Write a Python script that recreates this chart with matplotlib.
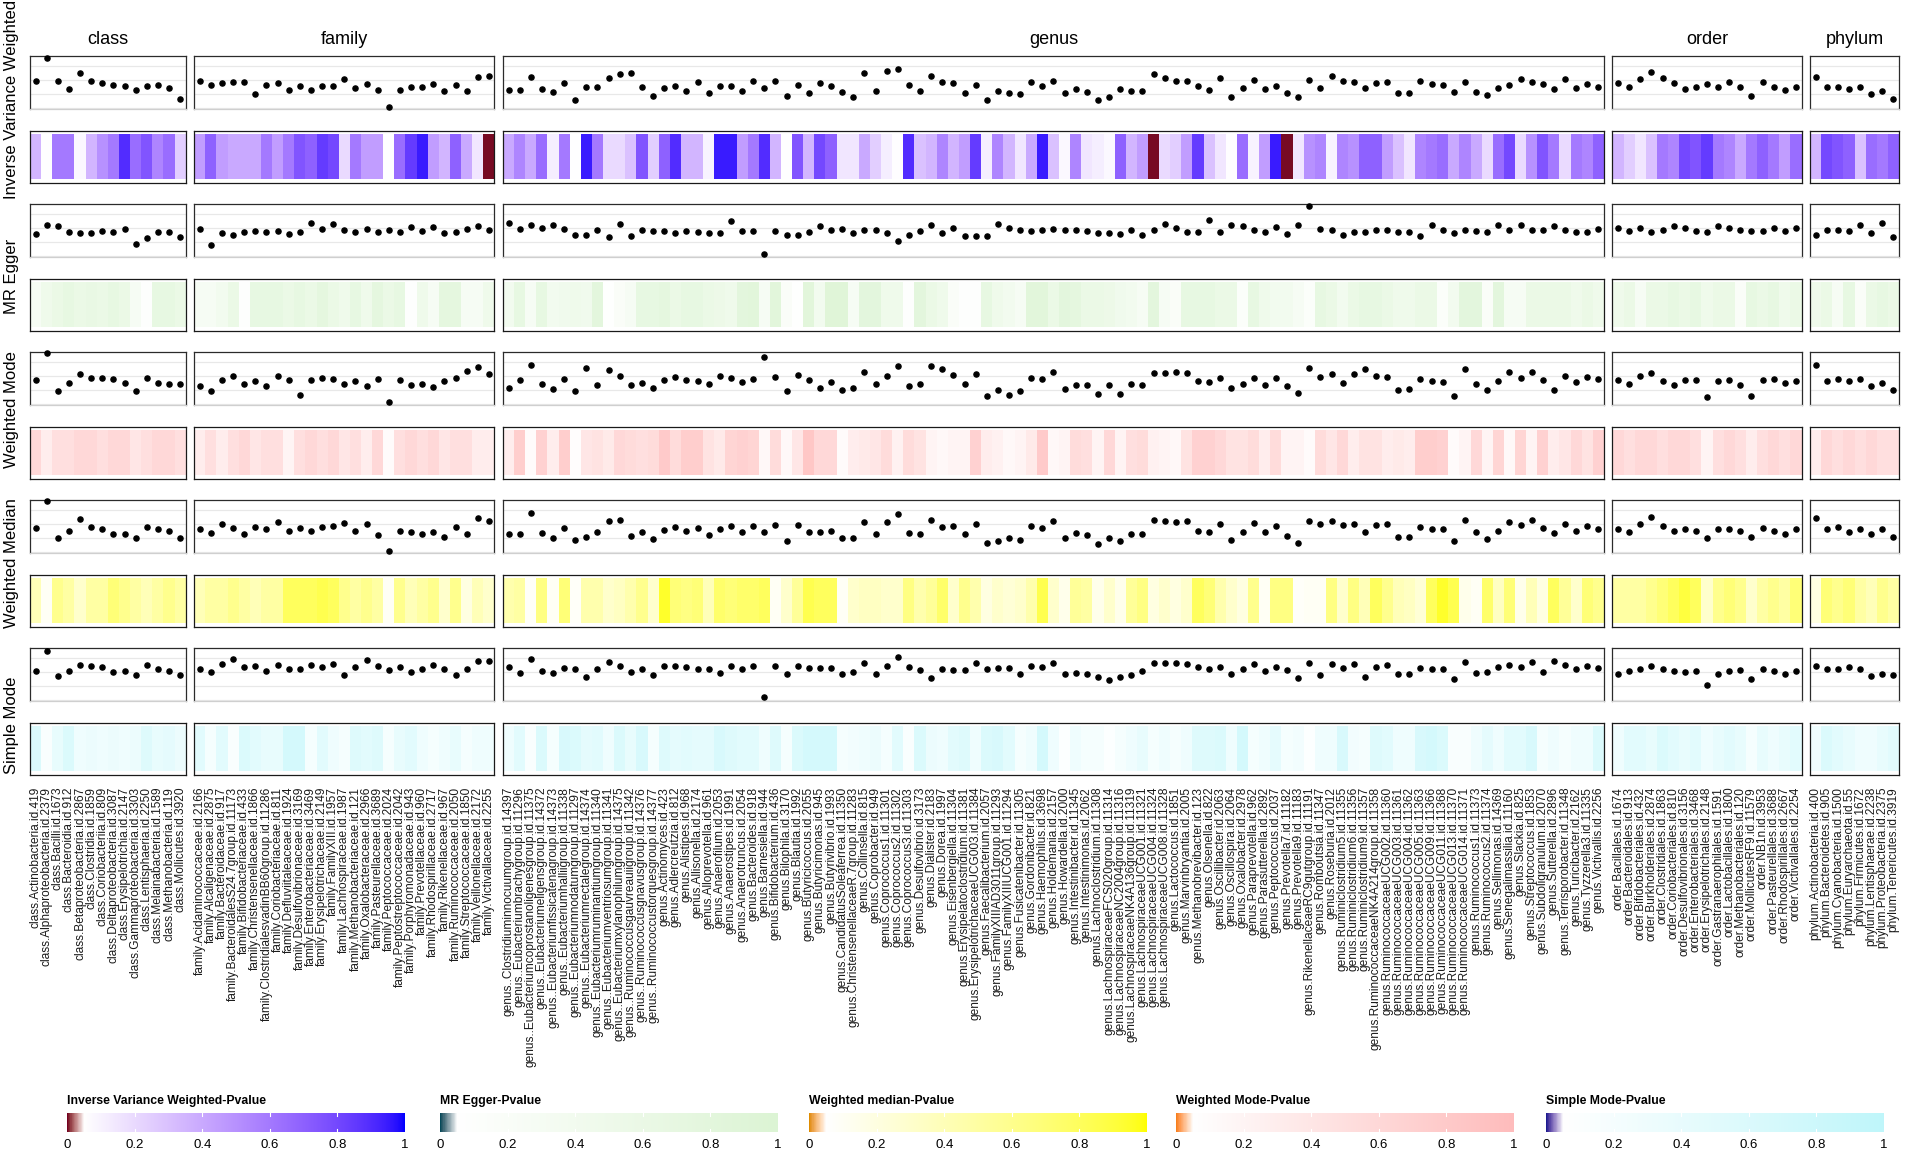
import numpy as np
import matplotlib
matplotlib.use("Agg")
import matplotlib.pyplot as plt
from matplotlib.colors import ListedColormap

plt.rcParams['font.family'] = ['Liberation Sans', 'DejaVu Sans']

# ---------------------------------------------------------------- data
class_labels = ["class.Actinobacteria.id.419", "class.Alphaproteobacteria.id.2379", "class.Bacilli.id.1673",
                "class.Bacteroidia.id.912", "class.Betaproteobacteria.id.2867", "class.Clostridia.id.1859",
                "class.Coriobacteriia.id.809", "class.Deltaproteobacteria.id.3087", "class.Erysipelotrichia.id.2147",
                "class.Gammaproteobacteria.id.3303", "class.Lentisphaeria.id.2250", "class.Melainabacteria.id.1589",
                "class.Methanobacteria.id.119", "class.Mollicutes.id.3920"]
class_ivw_b = [-0.007, 0.153, -0.007, -0.064, 0.051, -0.007, -0.024, -0.040, -0.047, -0.074, -0.043, -0.036, -0.057, -0.136]
class_ivw_p = [0.35, 0.055, 0.6, 0.6, 0.08, 0.35, 0.5, 0.6, 0.9, 0.65, 0.75, 0.55, 0.65, 0.25]
class_egger_b = [-0.043, 0.017, 0.012, -0.029, -0.041, -0.038, -0.024, -0.029, -0.012, -0.117, -0.074, -0.031, -0.031, -0.067]
class_egger_p = [0.3, 0.5, 0.6, 0.7, 0.6, 0.65, 0.6, 0.7, 0.6, 0.3, 0.1, 0.7, 0.7, 0.6]
class_wmode_b = [-0.031, 0.16, -0.110, -0.049, 0.013, -0.013, -0.013, -0.022, -0.049, -0.110, -0.013, -0.049, -0.057, -0.057]
class_wmode_p = [0.6, 0.3, 0.5, 0.5, 0.6, 0.6, 0.5, 0.6, 0.6, 0.4, 0.5, 0.6, 0.6, 0.5]
class_wmed_b = [-0.031, 0.16, -0.102, -0.049, 0.031, -0.022, -0.040, -0.075, -0.075, -0.102, -0.022, -0.040, -0.049, -0.102]
class_wmed_p = [0.4, 0.1, 0.6, 0.5, 0.3, 0.5, 0.5, 0.7, 0.6, 0.5, 0.4, 0.5, 0.6, 0.5]
class_smode_b = [0.004, 0.146, -0.031, 0.004, 0.049, 0.040, 0.031, -0.004, 0.004, -0.022, 0.049, 0.022, 0.004, -0.022]
class_smode_p = [0.6, 0.15, 0.4, 0.6, 0.3, 0.35, 0.3, 0.35, 0.3, 0.35, 0.55, 0.4, 0.45, 0.35]

family_labels = ["family.Acidaminococcaceae.id.2166", "family.Alcaligenaceae.id.2875", "family.Bacteroidaceae.id.917",
                 "family.BacteroidalesS24.7group.id.11173", "family.Bifidobacteriaceae.id.433",
                 "family.Christensenellaceae.id.1866", "family.ClostridialesvadinBB60group.id.11286",
                 "family.Coriobacteriaceae.id.811", "family.Defluviitaleaceae.id.1924",
                 "family.Desulfovibrionaceae.id.3169", "family.Enterobacteriaceae.id.3469",
                 "family.Erysipelotrichaceae.id.2149", "family.FamilyXIII.id.1957", "family.Lachnospiraceae.id.1987",
                 "family.Methanobacteriaceae.id.121", "family.Oxalobacteraceae.id.2966",
                 "family.Pasteurellaceae.id.3689", "family.Peptococcaceae.id.2024",
                 "family.Peptostreptococcaceae.id.2042", "family.Porphyromonadaceae.id.943",
                 "family.Prevotellaceae.id.960", "family.Rhodospirillaceae.id.2717", "family.Rikenellaceae.id.967",
                 "family.Ruminococcaceae.id.2050", "family.Streptococcaceae.id.1850",
                 "family.Veillonellaceae.id.2172", "family.Victivallaceae.id.2255"]
family_ivw_b = [-0.012, -0.038, -0.022, -0.014, -0.014, -0.100, -0.038, -0.024, -0.076, -0.043, -0.072, -0.048, -0.043,
                0.005, -0.060, -0.029, -0.072, -0.196, -0.072, -0.053, -0.053, -0.029, -0.084, -0.038, -0.079, 0.022, 0.026]
family_ivw_p = [0.45, 0.7, 0.45, 0.4, 0.4, 0.4, 0.6, 0.45, 0.6, 0.75, 0.7, 0.85, 0.8, 0.2, 0.6, 0.45, 0.45, 0.055,
                0.65, 0.85, 0.95, 0.45, 0.35, 0.7, 0.4, 0.15, 0.001]
family_egger_b = [-0.007, -0.122, -0.036, -0.053, -0.033, -0.022, -0.031, -0.024, -0.048, -0.031, 0.033, -0.012, 0.029,
                  -0.019, -0.031, -0.010, -0.031, -0.014, -0.033, 0.007, -0.022, 0.007, -0.038, -0.031, -0.012, 0.014, -0.019]
family_egger_p = [0.3, 0.3, 0.4, 0.6, 0.1, 0.7, 0.7, 0.7, 0.6, 0.7, 0.6, 0.75, 0.6, 0.5, 0.7, 0.5, 0.75, 0.6, 0.7, 0.1,
                  0.5, 0.3, 0.75, 0.75, 0.3, 0.3, 0.5]
family_wmode_b = [-0.075, -0.110, -0.031, -0.004, -0.057, -0.040, -0.075, -0.004, -0.031, -0.137, -0.031, -0.013, -0.022,
                  -0.057, -0.040, -0.075, -0.022, -0.19, -0.031, -0.066, -0.057, -0.084, -0.040, -0.013, 0.031, 0.066, 0.013]
family_wmode_p = [0.3, 0.5, 0.3, 0.5, 0.6, 0.4, 0.5, 0.5, 0.2, 0.5, 0.6, 0.5, 0.6, 0.4, 0.5, 0.3, 0.6, 0.1, 0.5, 0.6,
                  0.5, 0.6, 0.4, 0.5, 0.5, 0.3, 0.3]
family_wmed_b = [-0.040, -0.066, -0.004, -0.031, -0.075, -0.022, -0.040, 0.013, -0.049, -0.031, -0.049, -0.022, -0.013,
                 0.004, -0.049, -0.004, -0.084, -0.199, -0.049, -0.057, -0.075, -0.057, -0.093, -0.022, -0.075, 0.040, 0.022]
family_wmed_p = [0.4, 0.5, 0.5, 0.6, 0.5, 0.4, 0.5, 0.5, 0.8, 0.8, 0.8, 0.85, 0.8, 0.6, 0.5, 0.6, 0.5, 0.1, 0.6, 0.4,
                 0.5, 0.6, 0.3, 0.6, 0.2, 0.4, 0.3]
family_smode_b = [0.022, -0.004, 0.057, 0.093, 0.031, 0.040, 0.004, 0.049, 0.022, 0.022, 0.049, 0.031, 0.057, -0.022,
                  0.031, 0.084, 0.040, 0.013, 0.031, -0.004, 0.022, 0.049, 0.022, -0.022, 0.022, 0.075, 0.075]
family_smode_p = [0.5, 0.2, 0.5, 0.15, 0.6, 0.5, 0.4, 0.4, 0.7, 0.7, 0.2, 0.5, 0.3, 0.2, 0.55, 0.5, 0.55, 0.2, 0.4, 0.5,
                  0.3, 0.2, 0.3, 0.4, 0.2, 0.3, 0.3]

genus_labels = [
    "genus..Clostridiuminnocuumgroup.id.14397", "genus..Eubacteriumbrachygroup.id.11296",
    "genus..Eubacteriumcoprostanoligenesgroup.id.11375", "genus..Eubacteriumeligensgroup.id.14372",
    "genus..Eubacteriumfissicatenagroup.id.14373", "genus..Eubacteriumhalliigroup.id.11338",
    "genus..Eubacteriumnodatumgroup.id.11297", "genus..Eubacteriumrectalegroup.id.14374",
    "genus..Eubacteriumruminantiumgroup.id.11340", "genus..Eubacteriumventriosumgroup.id.11341",
    "genus..Eubacteriumxylanophilumgroup.id.14375", "genus..Ruminococcusgauvreauiigroup.id.11342",
    "genus..Ruminococcusgnavusgroup.id.14376", "genus..Ruminococcustorquesgroup.id.14377",
    "genus.Actinomyces.id.423", "genus.Adlercreutzia.id.812", "genus.Alistipes.id.968", "genus.Allisonella.id.2174",
    "genus.Alloprevotella.id.961", "genus.Anaerofilum.id.2053", "genus.Anaerostipes.id.1991",
    "genus.Anaerotruncus.id.2054", "genus.Bacteroides.id.918", "genus.Barnesiella.id.944",
    "genus.Bifidobacterium.id.436", "genus.Bilophila.id.3170", "genus.Blautia.id.1992",
    "genus.Butyricicoccus.id.2055", "genus.Butyricimonas.id.945", "genus.Butyrivibrio.id.1993",
    "genus.CandidatusSoleaferrea.id.11350", "genus.ChristensenellaceaeR.7group.id.11283",
    "genus.Collinsella.id.815", "genus.Coprobacter.id.949", "genus.Coprococcus1.id.11301",
    "genus.Coprococcus2.id.11302", "genus.Coprococcus3.id.11303", "genus.Desulfovibrio.id.3173",
    "genus.Dialister.id.2183", "genus.Dorea.id.1997", "genus.Eisenbergiella.id.11304",
    "genus.Erysipelatoclostridium.id.11381", "genus.ErysipelotrichaceaeUCG003.id.11384",
    "genus.Faecalibacterium.id.2057", "genus.FamilyXIIIAD3011group.id.11293", "genus.FamilyXIIIUCG001.id.11294",
    "genus.Fusicatenibacter.id.11305", "genus.Gordonibacter.id.821", "genus.Haemophilus.id.3698",
    "genus.Holdemania.id.2157", "genus.Howardella.id.2000", "genus.Intestinibacter.id.11345",
    "genus.Intestinimonas.id.2062", "genus.Lachnoclostridium.id.11308",
    "genus.LachnospiraceaeFCS020group.id.11314", "genus.LachnospiraceaeNC2004group.id.11316",
    "genus.LachnospiraceaeNK4A136group.id.11319", "genus.LachnospiraceaeUCG001.id.11321",
    "genus.LachnospiraceaeUCG004.id.11324", "genus.LachnospiraceaeUCG008.id.11328", "genus.Lactococcus.id.1851",
    "genus.Marvinbryantia.id.2005", "genus.Methanobrevibacter.id.123", "genus.Olsenella.id.822",
    "genus.Oscillibacter.id.2063", "genus.Oscillospira.id.2064", "genus.Oxalobacter.id.2978",
    "genus.Paraprevotella.id.962", "genus.Parasutterella.id.2892", "genus.Peptococcus.id.2037",
    "genus.Prevotella7.id.11182", "genus.Prevotella9.id.11183", "genus.RikenellaceaeRC9gutgroup.id.11191",
    "genus.Romboutsia.id.11347", "genus.Roseburia.id.2012", "genus.Ruminiclostridium5.id.11355",
    "genus.Ruminiclostridium6.id.11356", "genus.Ruminiclostridium9.id.11357",
    "genus.RuminococcaceaeNK4A214group.id.11358", "genus.RuminococcaceaeUCG002.id.11360",
    "genus.RuminococcaceaeUCG003.id.11361", "genus.RuminococcaceaeUCG004.id.11362",
    "genus.RuminococcaceaeUCG005.id.11363", "genus.RuminococcaceaeUCG009.id.11366",
    "genus.RuminococcaceaeUCG011.id.11368", "genus.RuminococcaceaeUCG013.id.11370",
    "genus.RuminococcaceaeUCG014.id.11371", "genus.Ruminococcus1.id.11373", "genus.Ruminococcus2.id.11374",
    "genus.Sellimonas.id.14369", "genus.Senegalimassilia.id.11160", "genus.Slackia.id.825",
    "genus.Streptococcus.id.1853", "genus.Subdoligranulum.id.2070", "genus.Sutterella.id.2896",
    "genus.Terrisporobacter.id.11348", "genus.Turicibacter.id.2162", "genus.Tyzzerella3.id.11335",
    "genus.Victivallis.id.2256"]

genus_ivw_b = [
    -0.073, -0.073, 0.020, -0.069, -0.086, -0.023, -0.145, -0.050, -0.053, 0.013,
    0.043, 0.050, -0.053, -0.116, -0.059, -0.043, -0.079, -0.017, -0.096, -0.046,
    -0.046, -0.079, -0.010, -0.056, -0.007, -0.119, -0.036, -0.092, -0.026, -0.046,
    -0.089, -0.125, 0.050, -0.079, 0.059, 0.076, -0.036, -0.079, 0.030, -0.013,
    -0.023, -0.092, -0.036, -0.145, -0.083, -0.096, -0.102, -0.017, -0.043, -0.007,
    -0.092, -0.066, -0.089, -0.145, -0.122, -0.066, -0.083, -0.079, 0.043, 0.013,
    -0.007, -0.007, -0.046, -0.073, 0.010, -0.125, -0.056, 0.0, -0.066, -0.046,
    -0.096, -0.122, -0.003, -0.059, 0.026, -0.010, -0.017, -0.059, -0.023, -0.013,
    -0.096, -0.092, -0.007, -0.030, -0.036, -0.089, -0.013, -0.086, -0.109, -0.056,
    -0.036, 0.007, -0.020, -0.030, -0.066, 0.007, -0.063, -0.030, -0.050]
genus_ivw_p = [
    0.4, 0.55, 0.4, 0.65, 0.12, 0.6, 0.055, 0.95, 0.6, 0.2,
    0.2, 0.3, 0.75, 0.25, 0.7, 0.9, 0.35, 0.35, 0.1, 0.95,
    0.95, 0.45, 0.6, 0.9, 0.35, 0.055, 0.75, 0.35, 0.8, 0.7,
    0.15, 0.15, 0.4, 0.25, 0.12, 0.06, 0.9, 0.3, 0.35, 0.55,
    0.35, 0.45, 0.85, 0.12, 0.55, 0.35, 0.15, 0.4, 0.95, 0.3,
    0.08, 0.55, 0.15, 0.12, 0.08, 0.7, 0.35, 0.45, 0.001, 0.2,
    0.25, 0.45, 0.85, 0.3, 0.15, 0.06, 0.65, 0.1, 0.45, 0.95,
    0.001, 0.15, 0.5, 0.55, 0.1, 0.55, 0.5, 0.7, 0.7, 0.45,
    0.3, 0.15, 0.55, 0.6, 0.65, 0.4, 0.55, 0.4, 0.2, 0.65,
    0.8, 0.2, 0.5, 0.75, 0.6, 0.2, 0.6, 0.55, 0.7]
genus_egger_b = [
    0.033, -0.010, 0.020, -0.003, 0.017, -0.010, -0.053, -0.053, -0.017, -0.066,
    0.030, -0.056, -0.013, -0.026, -0.026, -0.036, -0.023, -0.033, -0.040, -0.036,
    0.050, -0.023, -0.026, -0.185, -0.023, -0.050, -0.053, -0.030, 0.010, -0.020,
    -0.010, -0.040, -0.017, -0.020, -0.036, -0.092, -0.053, -0.023, 0.023, -0.040,
    0.0, -0.056, -0.056, -0.056, 0.030, 0.0, -0.020, -0.023, -0.013, -0.010,
    -0.020, -0.020, -0.026, -0.040, -0.040, -0.043, -0.017, -0.050, -0.017, 0.030,
    0.0, -0.030, -0.030, 0.056, -0.030, 0.023, 0.013, -0.013, -0.030, 0.003,
    -0.043, 0.017, 0.158, -0.010, -0.013, -0.053, -0.030, -0.030, -0.017, -0.017,
    -0.033, -0.030, -0.059, 0.017, -0.013, -0.040, -0.017, -0.023, -0.033, 0.020,
    -0.017, 0.023, -0.013, -0.013, 0.010, -0.017, -0.030, -0.030, -0.010]
genus_egger_p = [
    0.4, 0.7, 0.3, 0.7, 0.4, 0.45, 0.5, 0.45, 0.8, 0.08,
    0.2, 0.3, 0.7, 0.7, 0.75, 0.6, 0.7, 0.7, 0.6, 0.55,
    0.5, 0.8, 0.85, 0.3, 0.85, 0.2, 0.08, 0.85, 0.4, 0.9,
    0.9, 0.3, 0.8, 0.8, 0.5, 0.5, 0.1, 0.8, 0.6, 0.5,
    0.2, 0.1, 0.1, 0.7, 0.5, 0.4, 0.3, 0.85, 0.85, 0.6,
    0.8, 0.75, 0.6, 0.6, 0.55, 0.45, 0.4, 0.3, 0.8, 0.3,
    0.2, 0.7, 0.7, 0.7, 0.6, 0.6, 0.15, 0.7, 0.5, 0.4,
    0.4, 0.3, 0.15, 0.7, 0.6, 0.4, 0.6, 0.7, 0.7, 0.6,
    0.5, 0.5, 0.6, 0.6, 0.15, 0.4, 0.8, 0.8, 0.2, 0.8,
    0.3, 0.3, 0.6, 0.6, 0.6, 0.6, 0.5, 0.6, 0.5]
genus_wmode_b = [
    -0.086, -0.030, 0.079, -0.056, -0.092, -0.026, -0.112, 0.053, -0.066, 0.040,
    -0.003, -0.066, -0.053, -0.089, -0.033, -0.007, -0.033, -0.040, -0.063, -0.003,
    -0.013, -0.046, -0.020, 0.132, -0.010, -0.112, 0.007, -0.033, -0.086, -0.043,
    -0.102, -0.086, 0.026, -0.063, 0.0, 0.069, -0.076, -0.056, 0.073, 0.050,
    0.003, -0.056, 0.013, -0.149, -0.102, -0.139, -0.109, -0.013, -0.026, 0.026,
    -0.092, -0.066, -0.066, -0.132, -0.066, -0.129, -0.059, -0.066, 0.023, 0.023,
    0.030, 0.023, -0.040, -0.043, -0.013, -0.086, -0.056, -0.017, -0.066, -0.013,
    -0.076, -0.125, 0.053, -0.007, 0.010, -0.050, 0.010, 0.046, -0.003, -0.007,
    -0.099, -0.096, -0.023, -0.036, -0.043, -0.145, 0.046, -0.063, -0.102, -0.040,
    0.026, -0.017, 0.030, -0.030, -0.099, 0.0, -0.043, -0.007, -0.026]
genus_wmode_p = [
    0.3, 0.75, 0.1, 0.7, 0.3, 0.75, 0.08, 0.4, 0.45, 0.35,
    0.6, 0.55, 0.5, 0.55, 0.8, 0.55, 0.75, 0.75, 0.45, 0.35,
    0.65, 0.7, 0.65, 0.15, 0.55, 0.15, 0.4, 0.85, 0.6, 0.6,
    0.1, 0.3, 0.35, 0.4, 0.55, 0.25, 0.55, 0.45, 0.2, 0.15,
    0.2, 0.2, 0.7, 0.3, 0.25, 0.15, 0.2, 0.35, 0.8, 0.15,
    0.2, 0.55, 0.5, 0.2, 0.6, 0.2, 0.5, 0.55, 0.25, 0.2,
    0.15, 0.45, 0.7, 0.7, 0.6, 0.45, 0.45, 0.55, 0.3, 0.55,
    0.2, 0.2, 0.1, 0.55, 0.4, 0.6, 0.3, 0.45, 0.45, 0.3,
    0.35, 0.3, 0.75, 0.75, 0.7, 0.1, 0.2, 0.6, 0.2, 0.65,
    0.15, 0.65, 0.2, 0.7, 0.3, 0.4, 0.6, 0.45, 0.7]
genus_wmed_b = [
    -0.073, -0.076, 0.076, -0.066, -0.099, -0.030, -0.119, -0.096, -0.063, 0.017,
    0.026, -0.086, -0.059, -0.112, -0.043, -0.023, -0.050, -0.030, -0.079, -0.036,
    -0.017, -0.063, -0.020, -0.063, -0.010, -0.122, -0.010, -0.059, -0.059, -0.050,
    -0.106, -0.099, 0.010, -0.073, 0.013, 0.069, -0.069, -0.073, 0.026, -0.023,
    -0.017, -0.076, -0.003, -0.139, -0.122, -0.106, -0.116, -0.013, -0.030, 0.017,
    -0.102, -0.066, -0.079, -0.142, -0.102, -0.122, -0.073, -0.073, 0.026, 0.017,
    0.013, 0.017, -0.050, -0.063, -0.003, -0.116, -0.059, 0.003, -0.059, -0.017,
    -0.089, -0.135, 0.020, 0.0, 0.020, -0.007, 0.0, -0.056, -0.010, -0.003,
    -0.092, -0.092, -0.026, -0.040, -0.040, -0.122, 0.030, -0.056, -0.112, -0.050,
    0.013, -0.007, 0.026, -0.033, -0.069, -0.003, -0.053, -0.017, -0.036]
genus_wmed_p = [
    0.45, 0.5, 0.08, 0.65, 0.1, 0.7, 0.08, 0.45, 0.45, 0.3,
    0.35, 0.45, 0.6, 0.3, 0.95, 0.7, 0.65, 0.7, 0.4, 0.75,
    0.7, 0.75, 0.75, 0.8, 0.1, 0.3, 0.55, 0.85, 0.8, 0.8,
    0.1, 0.3, 0.35, 0.35, 0.3, 0.3, 0.65, 0.45, 0.55, 0.75,
    0.3, 0.6, 0.45, 0.2, 0.3, 0.25, 0.3, 0.45, 0.85, 0.3,
    0.15, 0.55, 0.5, 0.15, 0.3, 0.15, 0.55, 0.65, 0.2, 0.3,
    0.2, 0.3, 0.8, 0.7, 0.45, 0.3, 0.2, 0.6, 0.1, 0.65,
    0.65, 0.08, 0.1, 0.1, 0.65, 0.3, 0.65, 0.4, 0.8, 0.6,
    0.4, 0.35, 0.25, 0.8, 0.95, 0.85, 0.15, 0.1, 0.75, 0.35,
    0.7, 0.15, 0.4, 0.2, 0.8, 0.55, 0.3, 0.7, 0.6]
genus_smode_b = [
    0.033, -0.007, 0.092, 0.007, -0.007, 0.030, 0.017, -0.040, 0.020, 0.073,
    0.040, -0.003, 0.020, -0.026, 0.040, 0.043, 0.033, 0.020, 0.020, -0.010,
    0.040, 0.020, 0.040, -0.182, 0.040, -0.020, 0.040, 0.030, 0.026, 0.026,
    -0.013, -0.003, 0.066, -0.013, 0.043, 0.106, 0.033, 0.010, -0.043, 0.020,
    0.013, 0.013, 0.066, 0.017, 0.030, 0.030, -0.013, 0.043, 0.033, 0.063,
    -0.013, -0.007, -0.013, -0.036, -0.056, -0.036, -0.026, 0.003, 0.063, 0.063,
    0.063, 0.053, 0.036, 0.023, 0.036, -0.013, 0.023, 0.056, 0.003, 0.036,
    0.010, -0.043, 0.063, -0.026, 0.053, 0.026, 0.056, -0.040, 0.033, 0.046,
    -0.013, -0.013, 0.026, 0.023, 0.020, -0.053, 0.073, -0.010, -0.003, 0.036,
    0.050, 0.033, 0.069, 0.0, 0.076, 0.046, 0.017, 0.043, 0.030]
genus_smode_p = [
    0.3, 0.5, 0.15, 0.6, 0.2, 0.65, 0.6, 0.45, 0.5, 0.3,
    0.6, 0.4, 0.65, 0.2, 0.55, 0.45, 0.5, 0.45, 0.45, 0.65,
    0.55, 0.5, 0.5, 0.3, 0.55, 0.2, 0.6, 0.7, 0.7, 0.7,
    0.2, 0.25, 0.3, 0.35, 0.2, 0.5, 0.15, 0.6, 0.35, 0.3,
    0.5, 0.55, 0.3, 0.6, 0.65, 0.5, 0.2, 0.3, 0.7, 0.3,
    0.1, 0.3, 0.2, 0.2, 0.1, 0.2, 0.3, 0.4, 0.2, 0.3,
    0.2, 0.3, 0.55, 0.55, 0.6, 0.3, 0.7, 0.2, 0.3, 0.45,
    0.2, 0.25, 0.1, 0.3, 0.3, 0.65, 0.25, 0.2, 0.55, 0.5,
    0.3, 0.3, 0.65, 0.7, 0.6, 0.15, 0.15, 0.3, 0.45, 0.3,
    0.5, 0.5, 0.65, 0.2, 0.3, 0.2, 0.3, 0.3, 0.6]

order_labels = ["order.Bacillales.id.1674", "order.Bacteroidales.id.913", "order.Bifidobacteriales.id.432",
                "order.Burkholderiales.id.2874", "order.Clostridiales.id.1863", "order.Coriobacteriales.id.810",
                "order.Desulfovibrionales.id.3156", "order.Enterobacteriales.id.3468",
                "order.Erysipelotrichales.id.2148", "order.Gastranaerophilales.id.1591",
                "order.Lactobacillales.id.1800", "order.Methanobacteriales.id.120", "order.MollicutesRF9.id.11579",
                "order.NB1n.id.3953", "order.Pasteurellales.id.3688", "order.Rhodospirillales.id.2667",
                "order.Victivallales.id.2254"]
order_ivw_b = [-0.022, -0.049, 0.004, 0.057, 0.013, -0.022, -0.066, -0.049, -0.031, -0.049, -0.013, -0.049, -0.119,
               -0.013, -0.049, -0.075, -0.049]
order_ivw_p = [0.35, 0.25, 0.15, 0.3, 0.6, 0.55, 0.8, 0.75, 0.85, 0.6, 0.55, 0.4, 0.6, 0.7, 0.6, 0.45, 0.65]
order_egger_b = [-0.004, -0.022, -0.004, -0.031, -0.013, 0.013, -0.004, -0.022, -0.031, 0.013, -0.004, -0.013, -0.022,
                 -0.022, -0.004, -0.022, -0.004]
order_egger_p = [0.5, 0.6, 0.3, 0.6, 0.6, 0.7, 0.6, 0.7, 0.5, 0.6, 0.6, 0.2, 0.7, 0.6, 0.7, 0.5, 0.6]
order_wmode_b = [-0.031, -0.057, -0.004, 0.022, -0.040, -0.066, -0.031, -0.031, -0.155, -0.040, -0.031, -0.066, -0.146,
                 -0.031, -0.022, -0.049, -0.040]
order_wmode_p = [0.6, 0.5, 0.6, 0.6, 0.5, 0.6, 0.6, 0.5, 0.2, 0.5, 0.6, 0.5, 0.3, 0.5, 0.6, 0.5, 0.6]
order_wmed_b = [-0.040, -0.057, -0.004, 0.049, -0.013, -0.049, -0.040, -0.049, -0.102, -0.040, -0.040, -0.049, -0.093,
                -0.031, -0.049, -0.075, -0.040]
order_wmed_p = [0.5, 0.5, 0.5, 0.6, 0.7, 0.8, 0.9, 0.8, 0.3, 0.6, 0.7, 0.6, 0.3, 0.5, 0.6, 0.5, 0.7]
order_smode_b = [-0.013, 0.004, 0.022, 0.040, 0.022, 0.004, -0.004, 0.004, -0.093, -0.013, 0.004, 0.013, -0.049,
                 0.022, 0.004, -0.013, 0.004]
order_smode_p = [0.3, 0.5, 0.5, 0.4, 0.6, 0.5, 0.4, 0.5, 0.3, 0.4, 0.5, 0.4, 0.2, 0.4, 0.3, 0.4, 0.5]

phylum_labels = ["phylum.Actinobacteria.id.400", "phylum.Bacteroidetes.id.905", "phylum.Cyanobacteria.id.1500",
                 "phylum.Euryarchaeota.id.55", "phylum.Firmicutes.id.1672", "phylum.Lentisphaerae.id.2238",
                 "phylum.Proteobacteria.id.2375", "phylum.Tenericutes.id.3919"]
phylum_ivw_b = [0.022, -0.049, -0.049, -0.066, -0.049, -0.102, -0.084, -0.137]
phylum_ivw_p = [0.35, 0.8, 0.75, 0.7, 0.3, 0.65, 0.6, 0.7]
phylum_egger_b = [-0.049, -0.013, -0.013, -0.022, 0.022, -0.040, 0.031, -0.066]
phylum_egger_p = [0.5, 0.6, 0.3, 0.7, 0.2, 0.6, 0.7, 0.6]
phylum_wmode_b = [0.075, -0.040, -0.022, -0.040, -0.022, -0.075, -0.049, -0.102]
phylum_wmode_p = [0.3, 0.6, 0.5, 0.6, 0.5, 0.6, 0.5, 0.5]
phylum_wmed_b = [0.040, -0.040, -0.022, -0.057, -0.040, -0.075, -0.040, -0.093]
phylum_wmed_p = [0.2, 0.7, 0.6, 0.7, 0.5, 0.4, 0.6, 0.5]
phylum_smode_b = [0.040, 0.022, 0.022, 0.031, 0.022, -0.031, -0.013, -0.022]
phylum_smode_p = [0.3, 0.6, 0.5, 0.4, 0.3, 0.3, 0.4, 0.5]

group_names = ["class", "family", "genus", "order", "phylum"]
method_names = ["Inverse Variance Weighted", "MR Egger", "Weighted Mode", "Weighted Median", "Simple Mode"]
legend_titles = ["Inverse Variance Weighted-Pvalue", "MR Egger-Pvalue", "Weighted median-Pvalue",
                 "Weighted Mode-Pvalue", "Simple Mode-Pvalue"]
legend_ticks = [0, 0.2, 0.4, 0.6, 0.8, 1]
legend_ticklabels = ["0", "0.2", "0.4", "0.6", "0.8", "1"]

groups = {
    "class": (class_labels, [(class_ivw_b, class_ivw_p), (class_egger_b, class_egger_p),
                             (class_wmode_b, class_wmode_p), (class_wmed_b, class_wmed_p),
                             (class_smode_b, class_smode_p)]),
    "family": (family_labels, [(family_ivw_b, family_ivw_p), (family_egger_b, family_egger_p),
                               (family_wmode_b, family_wmode_p), (family_wmed_b, family_wmed_p),
                               (family_smode_b, family_smode_p)]),
    "genus": (genus_labels, [(genus_ivw_b, genus_ivw_p), (genus_egger_b, genus_egger_p),
                             (genus_wmode_b, genus_wmode_p), (genus_wmed_b, genus_wmed_p),
                             (genus_smode_b, genus_smode_p)]),
    "order": (order_labels, [(order_ivw_b, order_ivw_p), (order_egger_b, order_egger_p),
                             (order_wmode_b, order_wmode_p), (order_wmed_b, order_wmed_p),
                             (order_smode_b, order_smode_p)]),
    "phylum": (phylum_labels, [(phylum_ivw_b, phylum_ivw_p), (phylum_egger_b, phylum_egger_p),
                               (phylum_wmode_b, phylum_wmode_p), (phylum_wmed_b, phylum_wmed_p),
                               (phylum_smode_b, phylum_smode_p)]),
}

# ---------------------------------------------------------------- colour maps (LAB interpolation)
_M = np.array([[0.4124564, 0.3575761, 0.1804375],
               [0.2126729, 0.7151522, 0.0721750],
               [0.0193339, 0.1191920, 0.9503041]])
_WP = np.array([0.95047, 1.0, 1.08883])


def _hex(c):
    c = c.lstrip('#')
    return np.array([int(c[i:i + 2], 16) / 255 for i in (0, 2, 4)])


def srgb2lab(c):
    c = np.asarray(c, float)
    lin = np.where(c <= 0.04045, c / 12.92, ((c + 0.055) / 1.055) ** 2.4)
    t = (lin @ _M.T) / _WP
    f = np.where(t > (6 / 29) ** 3, np.cbrt(t), t / (3 * (6 / 29) ** 2) + 4 / 29)
    return np.stack([116 * f[..., 1] - 16, 500 * (f[..., 0] - f[..., 1]), 200 * (f[..., 1] - f[..., 2])], -1)


def lab2srgb(lab):
    fy = (lab[..., 0] + 16) / 116
    f = np.stack([fy + lab[..., 1] / 500, fy, fy - lab[..., 2] / 200], -1)
    t = np.where(f > 6 / 29, f ** 3, 3 * (6 / 29) ** 2 * (f - 4 / 29))
    lin = np.clip((t * _WP) @ np.linalg.inv(_M).T, 0, 1)
    return np.clip(np.where(lin <= 0.0031308, 12.92 * lin, 1.055 * lin ** (1 / 2.4) - 0.055), 0, 1)


def make_cmap(dark, end):
    v = np.linspace(0, 1, 1024)
    ld, lw, le = srgb2lab(_hex(dark)), srgb2lab(_hex('#ffffff')), srgb2lab(_hex(end))
    out = np.zeros((len(v), 3))
    for i, x in enumerate(v):
        if x < 0.05:
            t = x / 0.05
            out[i] = ld * (1 - t) + lw * t
        else:
            t = (x - 0.05) / 0.95
            out[i] = lw * (1 - t) + le * t
    return ListedColormap(lab2srgb(out))


cm_ivw = make_cmap('#740020', '#0000ff')
cm_egger = make_cmap('#064a5a', '#dcf4d4')
cm_wmode = make_cmap('#f7801f', '#ffbcbc')
cm_wmed = make_cmap('#e08c00', '#ffff00')
cm_smode = make_cmap('#1c1c90', '#bff6fa')
method_cmaps = [cm_ivw, cm_egger, cm_wmode, cm_wmed, cm_smode]
legend_cmaps = [cm_ivw, cm_egger, cm_wmed, cm_wmode, cm_smode]

# ---------------------------------------------------------------- layout (pixels)
W, H = 1908, 1151
fig = plt.figure(figsize=(W / 100, H / 100), dpi=100)


def px_axes(x, y, w, h):
    return fig.add_axes([x / W, 1 - (y + h) / H, w / W, h / H])


n_total = sum(len(groups[g][0]) for g in group_names)
x_start, x_end, gap = 30, 1899, 8.5
col_w = (x_end - x_start - gap * (len(group_names) - 1)) / n_total
dot_top0, dot_h, heat_off, heat_h, period = 56, 53, 75, 52, 148
label_centers = [99, 276, 410, 563, 725]

x = x_start
for gname in group_names:
    labels, series = groups[gname]
    n = len(labels)
    w = n * col_w
    fig.text((x + w / 2) / W, 1 - 40 / H, gname, ha='center', va='center', fontsize=13)
    for k, (b, p) in enumerate(series):
        assert len(b) == n and len(p) == n, (gname, k, len(b), len(p), n)
        yt = dot_top0 + k * period
        axd = px_axes(x, yt, w, dot_h)
        axd.plot(np.arange(n), b, 'o', color='black', ms=3.7, clip_on=False, zorder=3)
        axd.set_xlim(-0.5, n - 0.5)
        axd.set_ylim(-0.21, 0.17)
        axd.set_yticks([-0.2, -0.1, 0.0, 0.1])
        axd.set_xticks([])
        axd.tick_params(left=False, labelleft=False)
        axd.grid(axis='y', color='#e8e8e8', lw=0.9)
        axd.set_axisbelow(True)
        for s in ['top', 'left', 'right']:
            axd.spines[s].set_color('#2b2b2b')
            axd.spines[s].set_linewidth(0.9)
        axd.spines['bottom'].set_color('#cfcfcf')
        axd.spines['bottom'].set_linewidth(0.9)

        axh = px_axes(x, yt + heat_off, w, heat_h)
        axh.pcolormesh(np.arange(n + 1) - 0.5, [0, 1], np.array(p)[None, :], cmap=method_cmaps[k],
                       vmin=0, vmax=1, shading='flat')
        axh.set_xlim(-0.5, n - 0.5)
        axh.set_ylim(-0.088, 1.066)
        axh.set_yticks([])
        for s in axh.spines.values():
            s.set_color('#1a1a1a')
            s.set_linewidth(0.9)
        if k == len(series) - 1:
            axh.set_xticks(np.arange(n))
            axh.set_xticklabels(labels, rotation=90, fontsize=8.6, ha='center', va='top', color='#1a1a1a')
            axh.tick_params(axis='x', length=0, pad=8.5)
        else:
            axh.set_xticks([])
    x += w + gap

for name, yc in zip(method_names, label_centers):
    fig.text(12 / W, 1 - yc / H, name, rotation=90, ha='center', va='center', fontsize=12)

# ---------------------------------------------------------------- legends
leg_x = [67, 440, 809, 1176, 1546]
leg_w, leg_top, leg_h = 338, 1113, 19
for lx, title, cm in zip(leg_x, legend_titles, legend_cmaps):
    fig.text(lx / W, 1 - 1101 / H, title, ha='left', va='center', fontsize=8.8, fontweight='bold')
    axl = px_axes(lx, leg_top, leg_w, leg_h)
    axl.imshow(np.linspace(0, 1, 600)[None, :], aspect='auto', cmap=cm, vmin=0, vmax=1,
               extent=[0, 1, 0, 1], interpolation='nearest')
    for t in legend_ticks[1:-1]:
        axl.plot([t, t], [0, 0.18], color='white', lw=0.8)
        axl.plot([t, t], [0.82, 1], color='white', lw=0.8)
    axl.set_xlim(0, 1)
    axl.set_ylim(0, 1)
    axl.axis('off')
    for t, tl in zip(legend_ticks, legend_ticklabels):
        fig.text((lx + t * leg_w) / W, 1 - 1145 / H, tl, ha='center', va='center', fontsize=9.5)

fig.savefig("out.png", dpi=100)
